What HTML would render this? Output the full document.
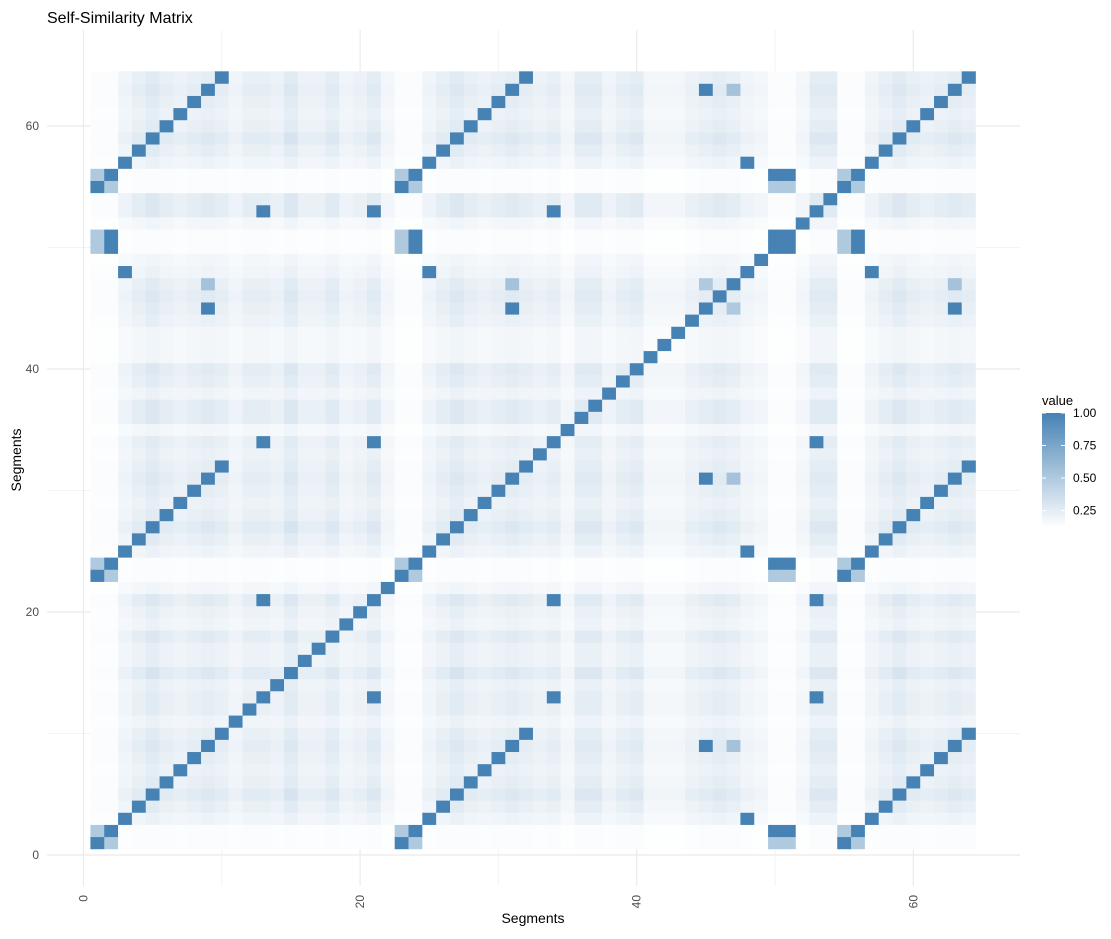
<!DOCTYPE html>
<html><head><meta charset="utf-8"><style>
body{margin:0;background:#fff}
svg text{font-family:"Liberation Sans",sans-serif}
</style></head><body>
<svg id="chart" width="1111" height="934" xmlns="http://www.w3.org/2000/svg">
<text x="47" y="23" font-size="16" fill="#000">Self-Similarity Matrix</text>
<g id="grid"></g>
<g id="cells"></g>
<g id="axes"></g>
<text x="533" y="923" font-size="14" text-anchor="middle" fill="#000">Segments</text>
<text transform="translate(21,460) rotate(-90)" font-size="14" text-anchor="middle" fill="#000">Segments</text>
<g id="legend"></g>
</svg>
<script>
// data
const segments = 64;
const baseLevel = [0.1,0.1,0.4,0.6,0.8,0.6,0.5,0.6,0.7,0.6,0.4,0.6,0.6,0.5,0.8,0.5,0.5,0.7,0.4,0.5,0.7,0.3,0.1,0.1,0.4,0.6,0.8,0.6,0.5,0.6,0.7,0.6,0.5,0.6,0.3,0.7,0.7,0.4,0.6,0.7,0.3,0.3,0.3,0.5,0.6,0.7,0.6,0.4,0.3,0.1,0.1,0.3,0.7,0.7,0.1,0.1,0.4,0.6,0.8,0.6,0.5,0.6,0.7,0.6];
const strongGroups = [[1,23,55],[2,24,56,50,51],[3,25,57,48],[4,26,58],[5,27,59],[6,28,60],[7,29,61],[8,30,62],[9,31,63,45],[10,32,64],[13,21,34,53]];
const midPairs = [[1,2,0.5],[1,24,0.5],[1,56,0.5],[1,50,0.5],[1,51,0.5],[23,2,0.5],[23,24,0.5],[23,56,0.5],[23,50,0.5],[23,51,0.5],[55,2,0.5],[55,24,0.5],[55,56,0.5],[55,50,0.5],[55,51,0.5],[47,9,0.55],[47,31,0.55],[47,63,0.55],[47,45,0.5]];
const xTicks = [0,20,40,60];
const yTicks = [0,20,40,60];
const legendTicks = ["1.00","0.75","0.50","0.25"];
const legendVals = [1,0.75,0.5,0.25];

const NS="http://www.w3.org/2000/svg";
const xS=v=>83.5+13.83*v, yS=v=>855-12.15*v;
const vMin=0.12,vMax=1;
function col(v){let t=Math.max(0,Math.min(1,(v-vMin)/(vMax-vMin)));
 const r=Math.round(255+(70-255)*t),g=Math.round(255+(130-255)*t),b=Math.round(255+(180-255)*t);return `rgb(${r},${g},${b})`;}
function mk(tag,attrs,parent){const e=document.createElementNS(NS,tag);for(const k in attrs)e.setAttribute(k,attrs[k]);parent.appendChild(e);return e;}

// matrix
const M=[];
for(let i=1;i<=segments;i++){M[i]=[];for(let j=1;j<=segments;j++)M[i][j]=0.12+0.3*baseLevel[i-1]*baseLevel[j-1];}
for(let i=1;i<=segments;i++)M[i][i]=1;
strongGroups.forEach(g=>g.forEach(a=>g.forEach(b=>{M[a][b]=1;})));
midPairs.forEach(p=>{if(M[p[0]][p[1]]<1){M[p[0]][p[1]]=p[2];M[p[1]][p[0]]=p[2];}});

// grid
const grid=document.getElementById('grid');
[10,30,50].forEach(v=>{const l=mk('line',{x1:xS(v),x2:xS(v),y1:30,y2:886,stroke:'#f3f3f3','stroke-width':1},grid);});
[10,30,50].forEach(v=>{const l=mk('line',{y1:yS(v),y2:yS(v),x1:47,x2:1020,stroke:'#f3f3f3','stroke-width':1},grid);});
xTicks.forEach(v=>{const l=mk('line',{x1:xS(v),x2:xS(v),y1:30,y2:886,stroke:'#ebebeb','stroke-width':1.2},grid);});
yTicks.forEach(v=>{const l=mk('line',{y1:yS(v),y2:yS(v),x1:47,x2:1020,stroke:'#ebebeb','stroke-width':1.2},grid);});

// cells
const cells=document.getElementById('cells');
const cw=13.83,ch=12.15;
for(let i=1;i<=segments;i++)for(let j=1;j<=segments;j++){
 const r=mk('rect',{x:(xS(i-0.5)).toFixed(2),y:(yS(j+0.5)).toFixed(2),width:cw+0.3,height:ch+0.3,fill:col(M[i][j])},cells);
 
 
}

// axes labels
const axes=document.getElementById('axes');
xTicks.forEach(v=>{const t=mk('text',{transform:`translate(${xS(v)+4},895) rotate(-90)`,'font-size':12,'text-anchor':'end',fill:'#4d4d4d'},axes);t.textContent=v;});
yTicks.forEach(v=>{const t=mk('text',{x:39,y:yS(v)+4,'font-size':12,'text-anchor':'end',fill:'#4d4d4d'},axes);t.textContent=v;});

// legend
const lg=document.getElementById('legend');
const defs=mk('defs',{},lg);
const gr=mk('linearGradient',{id:'lgrad',x1:0,y1:1,x2:0,y2:0},defs);
mk('stop',{offset:'0',"stop-color":col(0.12)},gr);mk('stop',{offset:'1',"stop-color":col(1)},gr);
const lt=mk('text',{x:1042,y:405,'font-size':13,fill:'#000'},lg);lt.textContent='value';
const ly=v=>413+(1-v)*130;
const bar=mk('rect',{x:1042,y:413,width:23,height:ly(0.12)-413,fill:'url(#lgrad)'},lg);

legendVals.forEach((v,k)=>{
 mk('line',{x1:1042,x2:1046,y1:ly(v),y2:ly(v),stroke:'#fff'},lg);mk('line',{x1:1061,x2:1065,y1:ly(v),y2:ly(v),stroke:'#fff'},lg);
 const t=mk('text',{x:1073,y:ly(v)+4,'font-size':12,fill:'#000'},lg);t.textContent=legendTicks[k];
 
});
</script>
</body></html>
